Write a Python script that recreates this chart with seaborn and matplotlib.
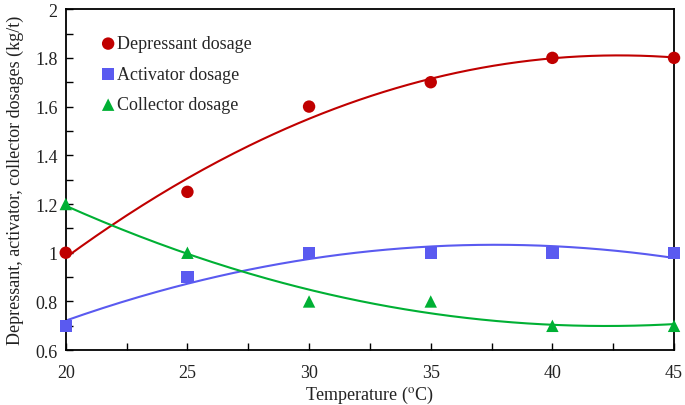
import numpy as np
import matplotlib
matplotlib.use('Agg')
import matplotlib.pyplot as plt
import seaborn as sns
from matplotlib.ticker import MultipleLocator

# Values
temperature = [20, 25, 30, 35, 40, 45]
depressant = [1.0, 1.25, 1.6, 1.7, 1.8, 1.8]
activator = [0.7, 0.9, 1.0, 1.0, 1.0, 1.0]
collector = [1.2, 1.0, 0.8, 0.8, 0.7, 0.7]

sns.set_theme(style='ticks')
plt.rcParams['font.family'] = ['Liberation Serif', 'DejaVu Serif']
plt.rcParams['mathtext.fontset'] = 'stix'

fig = plt.figure(figsize=(6.85, 4.06), dpi=100)
ax = fig.add_axes([0.096, 0.135, 0.888, 0.84])

series = [
    ('Depressant dosage', depressant, '#C00000', 'o'),
    ('Activator dosage', activator, '#5A5AF0', 's'),
    ('Collector dosage', collector, '#00B034', '^'),
]

xs = np.linspace(20, 45, 200)
for label, vals, color, marker in series:
    # 2nd order polynomial trend line
    coef = np.polyfit(temperature, vals, 2)
    sns.lineplot(x=xs, y=np.polyval(coef, xs), color=color, lw=1.5, ax=ax,
                 legend=False)
    sns.scatterplot(x=temperature, y=vals, color=color, marker=marker, s=80,
                    edgecolor='none', label=label, ax=ax, clip_on=False, zorder=3)

ax.set_xlim(20, 45)
ax.set_ylim(0.6, 2.0)
ax.xaxis.set_major_locator(MultipleLocator(5))
ax.xaxis.set_minor_locator(MultipleLocator(2.5))
ax.yaxis.set_minor_locator(MultipleLocator(0.1))
ax.set_yticks([0.6, 0.8, 1.0, 1.2, 1.4, 1.6, 1.8, 2.0])
ax.set_yticklabels(['0.6', '0.8', '1', '1.2', '1.4', '1.6', '1.8', '2'])

fs = 13
ax.tick_params(which='both', direction='in', labelsize=fs, color='black',
               labelcolor='#222222')
ax.tick_params(which='major', length=5, width=1)
ax.tick_params(which='minor', length=5, width=1)
ax.tick_params(axis='x', pad=10)
ax.tick_params(axis='y', pad=6)
for side in ax.spines.values():
    side.set_color('black')
    side.set_linewidth(1.3)

ax.set_xlabel('Temperature ($^{\\mathrm{o}}$C)', fontsize=fs, color='#222222', labelpad=2)
ax.set_ylabel('Depressant, activator, collector dosages (kg/t)', fontsize=fs,
              color='#222222', labelpad=8)

ax.legend(loc='upper left', bbox_to_anchor=(0.04, 0.955), frameon=False,
          fontsize=fs, handlelength=0.8, handletextpad=0.1, labelspacing=0.75,
          borderaxespad=0.2)

fig.savefig('out.png', dpi=100)
plt.close(fig)
